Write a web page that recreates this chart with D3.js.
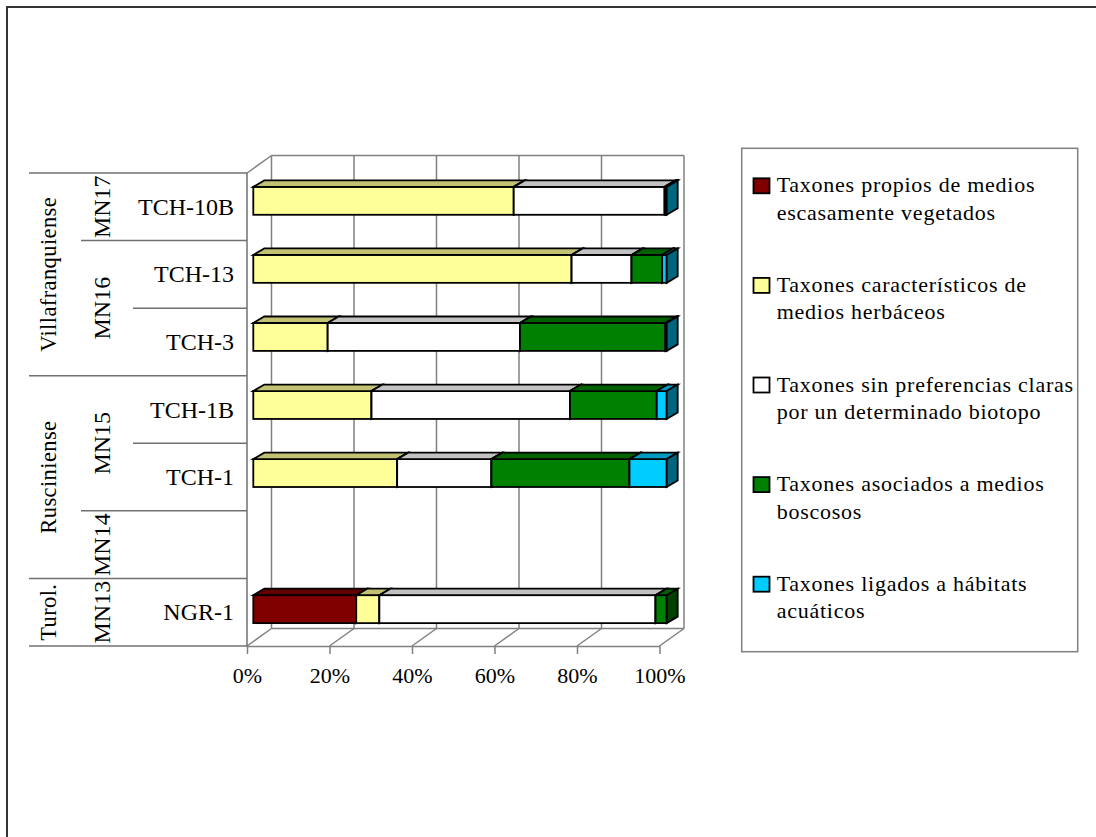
<!DOCTYPE html>
<html>
<head>
<meta charset="utf-8">
<script src="https://cdn.jsdelivr.net/npm/d3@7"></script>
<style>
  html, body { margin: 0; padding: 0; background: #fff; }
  svg { display: block; }
  text { font-family: "Liberation Serif", "Times New Roman", serif; fill: #000; }
</style>
</head>
<body>
<svg id="chart" width="1096" height="837"></svg>
<script>
// Samples, top to bottom; the empty slot is the MN14 row with no locality
const samples = ["TCH-10B", "TCH-13", "TCH-3", "TCH-1B", "TCH-1", "", "NGR-1"];

// Percentage of taxa per ecological group in each sample
const escasamenteVegetados = [0, 0, 0, 0, 0, 0, 24.9];
const herbaceos            = [63, 77, 18, 28.6, 34.8, 0, 5.6];
const sinPreferencias      = [36.5, 14.5, 46.5, 48, 22.8, 0, 66.8];
const boscosos             = [0.3, 7.4, 35.2, 21, 33.4, 0, 2.7];
const acuaticos            = [0.2, 1.1, 0.3, 2.4, 9.0, 0, 0];

const seriesNames = [
  ["Taxones propios de medios", "escasamente vegetados"],
  ["Taxones característicos de", "medios herbáceos"],
  ["Taxones sin preferencias claras", "por un determinado biotopo"],
  ["Taxones asociados a medios", "boscosos"],
  ["Taxones ligados a hábitats", "acuáticos"]
];
const seriesColors = ["#800000", "#FFFF99", "#FFFFFF", "#008000", "#00CCFF"];

// Stratigraphic grouping of the rows
const eraLabels = ["Villafranquiense", "Rusciniense", "Turol."];
const eraSpans  = [3, 3, 1];
const mnLabels  = ["MN17", "MN16", "MN15", "MN14", "MN13"];
const mnSpans   = [1, 2, 2, 1, 1];

const tickValues = [0, 20, 40, 60, 80, 100];

const series = [escasamenteVegetados, herbaceos, sinPreferencias, boscosos, acuaticos];

const svg = d3.select("#chart");

// Outer frame
svg.append("rect")
  .attr("x", 7).attr("y", 7).attr("width", 1200).attr("height", 1000)
  .attr("fill", "none").attr("stroke", "#333").attr("stroke-width", 2);

// 3D plot geometry: front plane, back wall offset
const depth = { dx: 24.5, dy: -17.5 };
const front = { left: 247, right: 659.5, top: 173, bottom: 646 };

const xFront = d3.scaleLinear().domain([0, 100]).range([front.left, front.right]);
const xBack  = d3.scaleLinear().domain([0, 100]).range([front.left + depth.dx, front.right + depth.dx]);
const xBar   = d3.scaleLinear().domain([0, 100]).range([253.3, 666.7]);

const yFront = d3.scaleBand().domain(d3.range(samples.length)).range([front.top, front.bottom]);
const yBar   = d3.scaleBand().domain(d3.range(samples.length)).range([166.8, 643.2])
  .paddingInner(0.59).paddingOuter(0.295);

const grid = "#808080";
const backTop = front.top + depth.dy, backBottom = front.bottom + depth.dy;

// Back wall gridlines
const gGrid = svg.append("g").attr("stroke", grid).attr("stroke-width", 1.5).attr("fill", "none");
gGrid.selectAll("line.v").data(tickValues).join("line")
  .attr("x1", d => xBack(d)).attr("x2", d => xBack(d))
  .attr("y1", backTop).attr("y2", backBottom);
gGrid.append("line")
  .attr("x1", xBack(0)).attr("x2", xBack(100)).attr("y1", backTop).attr("y2", backTop);
gGrid.append("line")
  .attr("x1", xBack(0)).attr("x2", xBack(100)).attr("y1", backBottom).attr("y2", backBottom);
// Floor lines running from front to back
gGrid.selectAll("line.f").data(tickValues).join("line")
  .attr("x1", d => xFront(d)).attr("x2", d => xBack(d))
  .attr("y1", front.bottom).attr("y2", backBottom);
// Left wall top edge
gGrid.append("line")
  .attr("x1", front.left).attr("x2", xBack(0))
  .attr("y1", front.top).attr("y2", backTop);

// Front axis with percentage ticks
const axis = d3.axisBottom(xFront)
  .tickValues(tickValues)
  .tickFormat(d => d + "%")
  .tickSize(8).tickSizeOuter(0).tickPadding(13);
const gAxis = svg.append("g").attr("transform", `translate(0,${front.bottom})`).call(axis);
gAxis.select(".domain").attr("stroke", grid).attr("stroke-width", 1.5);
gAxis.selectAll(".tick line").attr("stroke", grid).attr("stroke-width", 1.5);
gAxis.selectAll(".tick text")
  .style("font-family", '"Liberation Serif", "Times New Roman", serif')
  .attr("font-size", 22).attr("fill", "#000");

// Stacked 3D bars
const bd = { dx: 11, dy: -6.5 };
const shade = (c, k) => {
  const col = d3.rgb(c);
  return d3.rgb(col.r * k, col.g * k, col.b * k).formatHex();
};
const gBars = svg.append("g").attr("stroke", "#000").attr("stroke-width", 1.8)
  .attr("stroke-linejoin", "miter");

samples.forEach((s, i) => {
  let cum = 0;
  const y = yBar(i), h = yBar.bandwidth();
  series.forEach((vals, k) => {
    const v = vals[i];
    if (!v) return;
    const x0 = xBar(cum), x1 = xBar(cum + v);
    cum += v;
    const g = gBars.append("g");
    g.append("rect").attr("x", x0).attr("y", y).attr("width", x1 - x0).attr("height", h)
      .attr("fill", seriesColors[k]);
    g.append("path")
      .attr("d", `M${x0},${y}L${x0 + bd.dx},${y + bd.dy}L${x1 + bd.dx},${y + bd.dy}L${x1},${y}Z`)
      .attr("fill", shade(seriesColors[k], 0.76));
    g.append("path")
      .attr("d", `M${x1},${y}L${x1 + bd.dx},${y + bd.dy}L${x1 + bd.dx},${y + h + bd.dy}L${x1},${y + h}Z`)
      .attr("fill", shade(seriesColors[k], 0.5));
  });
});

// Left wall front edge and category table
const tableLine = "#707070";
const gTable = svg.append("g").attr("stroke", tableLine).attr("stroke-width", 1.5);
gTable.append("line").attr("x1", front.left).attr("x2", front.left)
  .attr("y1", front.top).attr("y2", front.bottom);

const colEra = 29, colMN = 81, colSample = 133;
// Boundary lines: the start column depends on which level changes
const eraEnds = d3.cumsum(eraSpans), mnEnds = d3.cumsum(mnSpans);
d3.range(samples.length + 1).forEach(b => {
  let x0 = colSample;
  if (b === 0 || eraEnds.includes(b)) x0 = colEra;
  else if (mnEnds.includes(b)) x0 = colMN;
  const y = b === samples.length ? front.bottom : yFront(b);
  gTable.append("line").attr("x1", x0).attr("x2", front.left).attr("y1", y).attr("y2", y);
});

// Sample labels
svg.append("g").selectAll("text").data(samples).join("text")
  .attr("x", 234).attr("y", (d, i) => yFront(i) + yFront.bandwidth() / 2 + 8)
  .attr("text-anchor", "end").attr("font-size", 24).text(d => d);

// Rotated group labels
function groupLabels(labels, spans, x, size, spacing) {
  let start = 0;
  labels.forEach((lab, i) => {
    const y0 = yFront(start);
    const end = start + spans[i];
    const y1 = end === samples.length ? front.bottom : yFront(end);
    start = end;
    svg.append("text")
      .attr("transform", `translate(${x},${(y0 + y1) / 2}) rotate(-90)`)
      .attr("text-anchor", "middle").attr("font-size", size)
      .attr("letter-spacing", spacing).text(lab);
  });
}
groupLabels(eraLabels, eraSpans, 55.5, 22.5, 0.4);
groupLabels(mnLabels, mnSpans, 109.5, 24, 0);

// Legend
const legend = svg.append("g");
legend.append("rect").attr("x", 741.7).attr("y", 148.3).attr("width", 336).attr("height", 503.4)
  .attr("fill", "#fff").attr("stroke", grid).attr("stroke-width", 1.5);
seriesNames.forEach((lines, k) => {
  const top = 178.3 + k * 99.6;
  legend.append("rect").attr("x", 753.5).attr("y", top).attr("width", 16).attr("height", 15)
    .attr("fill", seriesColors[k]).attr("stroke", "#000").attr("stroke-width", 1.8);
  const t = legend.append("text").attr("x", 776.7).attr("y", top + 14)
    .attr("font-size", 22).attr("letter-spacing", 0.75);
  lines.forEach((ln, j) => {
    t.append("tspan").attr("x", 776.7).attr("dy", j === 0 ? 0 : 27.5).text(ln);
  });
});
</script>
</body>
</html>
